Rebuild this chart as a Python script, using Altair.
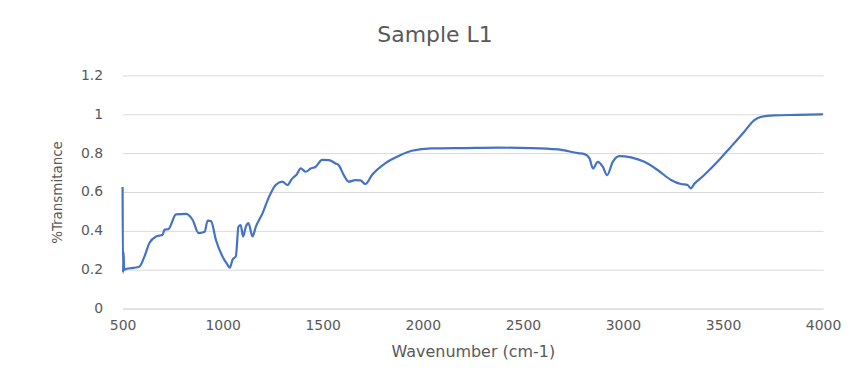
import altair as alt
import pandas as pd

wavenumber = [500, 502, 505, 508, 520, 551, 585, 610, 634, 668, 700, 709, 730, 767, 817,
              850, 880, 910, 925, 942, 966, 999, 1024, 1036, 1049, 1066, 1079, 1090, 1102, 1116,
              1129, 1149, 1166, 1199, 1232, 1265, 1298, 1323, 1348, 1370, 1390, 1415, 1440, 1465, 1497,
              1530, 1564, 1580, 1605, 1630, 1663, 1688, 1713, 1746, 1812, 1879, 1945, 2045, 2211, 2377,
              2543, 2675, 2775, 2808, 2833, 2850, 2874, 2899, 2921, 2949, 2982, 3040, 3107, 3173, 3240,
              3290, 3323, 3339, 3356, 3406, 3472, 3539, 3605, 3655, 3688, 3754, 3870, 4000]
transmittance = [0.625, 0.185, 0.29, 0.20, 0.205, 0.209, 0.217, 0.27, 0.337, 0.371, 0.38, 0.405, 0.41, 0.485, 0.487,
                 0.456, 0.388, 0.395, 0.453, 0.45, 0.354, 0.268, 0.226, 0.21, 0.251, 0.27, 0.422, 0.43, 0.371, 0.422,
                 0.44, 0.371, 0.422, 0.49, 0.576, 0.636, 0.653, 0.636, 0.67, 0.69, 0.721, 0.704, 0.721, 0.73, 0.765,
                 0.764, 0.747, 0.738, 0.687, 0.653, 0.661, 0.66, 0.641, 0.687, 0.747, 0.785, 0.812, 0.824, 0.826, 0.828,
                 0.826, 0.819, 0.8, 0.795, 0.773, 0.721, 0.755, 0.73, 0.687, 0.755, 0.785, 0.778, 0.755, 0.713, 0.662,
                 0.641, 0.636, 0.619, 0.641, 0.687, 0.755, 0.832, 0.909, 0.969, 0.986, 0.994, 0.997, 1.0]
x_ticks = [500, 1000, 1500, 2000, 2500, 3000, 3500, 4000]
y_ticks = [0, 0.2, 0.4, 0.6, 0.8, 1.0, 1.2]

df = pd.DataFrame({"wn": wavenumber, "t": transmittance})

FONT = "DejaVu Sans"
GRAY = "#595959"

chart = alt.Chart(df).mark_line(color="#4472C4", strokeWidth=2.2, interpolate="monotone").encode(
    x=alt.X("wn:Q", scale=alt.Scale(domain=[500, 4000], nice=False),
            axis=alt.Axis(values=x_ticks, format="d", title="Wavenumber (cm-1)",
                          grid=False, ticks=False, domainColor="#d9d9d9", labelFlush=False,
                          labelPadding=10, titlePadding=11)),
    y=alt.Y("t:Q", scale=alt.Scale(domain=[0, 1.2], nice=False),
            axis=alt.Axis(values=y_ticks, format=".1~f", title="%Transmitance",
                          grid=True, gridColor="#d9d9d9", ticks=False, domain=False,
                          labelPadding=20, titlePadding=16)),
).properties(
    width=703, height=234,
    title=alt.TitleParams("Sample L1", fontSize=22, font=FONT, color=GRAY,
                          fontWeight="normal", offset=22, dx=-38),
    autosize=alt.AutoSizeParams(type="none"),
    padding={"left": 115, "top": 67, "right": 30, "bottom": 55},
).configure_axis(
    labelFont=FONT, labelFontSize=14, labelColor=GRAY,
    titleFont=FONT, titleFontSize=16, titleColor=GRAY, titleFontWeight="normal",
).configure_axisY(
    titleFont="'DejaVu Sans Condensed', 'Liberation Sans Narrow', Lato, sans-serif", titleFontSize=15,
).configure_view(stroke=None)

chart.save("out.html", embed_options={"renderer": "svg", "actions": False})
